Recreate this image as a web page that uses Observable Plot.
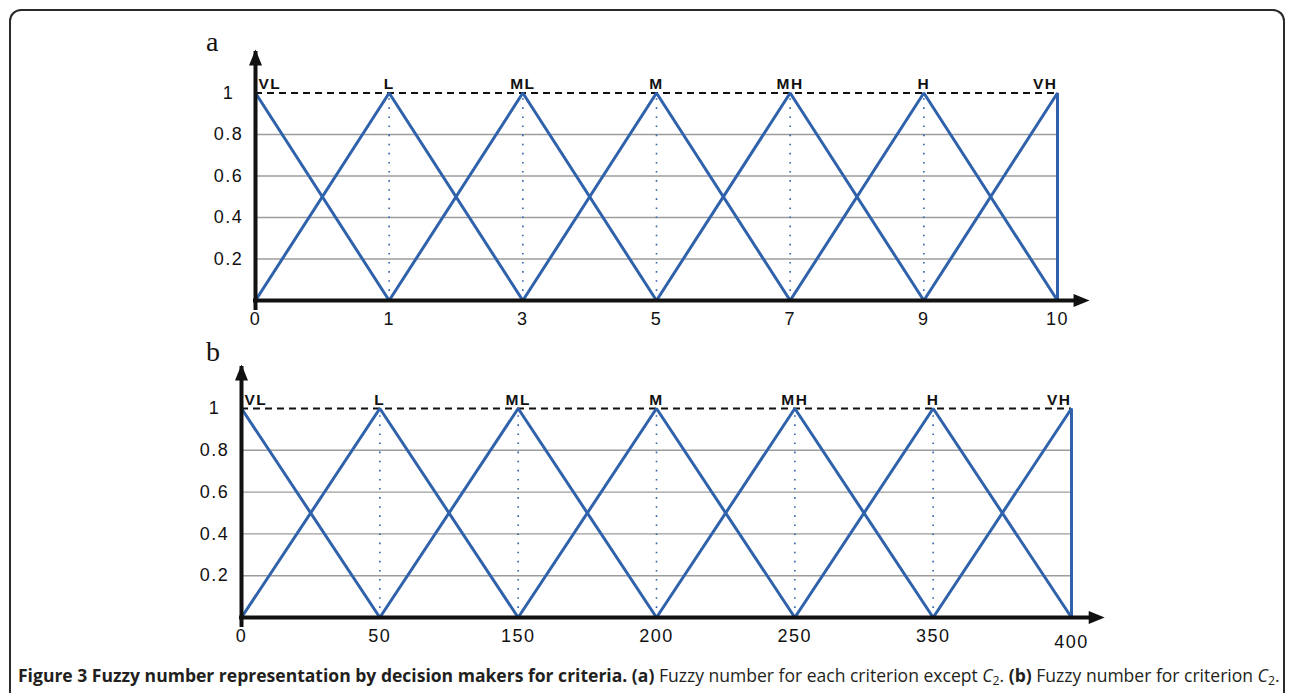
<!DOCTYPE html>
<html>
<head>
<meta charset="utf-8">
<script src="https://cdn.jsdelivr.net/npm/d3@7"></script>
<script src="https://cdn.jsdelivr.net/npm/@observablehq/plot@0.6"></script>
<style>
  html, body { margin: 0; padding: 0; background: #fff; }
  body { width: 1292px; height: 693px; position: relative; overflow: hidden; }
  #frame { position: absolute; left: 9px; top: 9px; width: 1276px; height: 720px;
           border: 2px solid #2a2a2a; border-bottom: none; border-radius: 12px 12px 0 0; box-sizing: border-box; }
  .panel { position: absolute; left: 0; }
  .panel svg text { letter-spacing: 1.5px; font-family: "Liberation Sans", Arial, sans-serif !important; }
  .plabel { position: absolute; font-family: "Liberation Serif", serif; font-size: 28px; line-height: 28px; color: #111; }
  #caption { position: absolute; left: 18px; top: 663px; white-space: nowrap;
             font-family: "Open Sans", "Noto Sans", sans-serif; font-size: 14px; color: #231f20; }
  #caption b { font-weight: 700; }
  #caption i { font-style: italic; }
  #caption sub { font-size: 0.7em; vertical-align: -0.25em; line-height: 0; }
</style>
</head>
<body>
<div id="frame"></div>
<div class="plabel" style="left:206px; top:28px;">a</div>
<div class="plabel" style="left:206px; top:338px;">b</div>
<div id="panelA" class="panel" style="top:0px;"></div>
<div id="panelB" class="panel" style="top:340px;"></div>
<div id="caption"><span id="capspan"><b>Figure 3 Fuzzy number representation by decision makers for criteria. (a)</b> Fuzzy number for each criterion except <i>C</i><sub>2</sub>. <b>(b)</b> Fuzzy number for criterion <i>C</i><sub>2</sub>.</span></div>
<script>
// ---- data ----
const terms = ["VL", "L", "ML", "M", "MH", "H", "VH"];
const ticksA = [0, 1, 3, 5, 7, 9, 10];
const fuzzyA = [[0, 0, 1], [0, 1, 3], [1, 3, 5], [3, 5, 7], [5, 7, 9], [7, 9, 10], [9, 10, 10]];
const ticksB = [0, 50, 150, 200, 250, 350, 400];
const fuzzyB = [[0, 0, 50], [0, 50, 150], [50, 150, 200], [150, 200, 250], [200, 250, 350], [250, 350, 400], [350, 400, 400]];
const gridLevels = [0.2, 0.4, 0.6, 0.8];
const yTicks = [0.2, 0.4, 0.6, 0.8, 1];

// ---- styles ----
const BLUE = "#2f62ab";
const INK = "#111";
const FONT = "'Liberation Sans', Arial, sans-serif";
const axisTopY = 1.21;   // y-arrow tip (in y units)
const axisEndX = 6.24;   // x-arrow tip (in index units)

const arrowUp = { draw(ctx) { ctx.moveTo(0, 0); ctx.lineTo(-6.5, 16); ctx.lineTo(6.5, 16); ctx.closePath(); } };
const arrowRight = { draw(ctx) { ctx.moveTo(0, 0); ctx.lineTo(-16, -6.5); ctx.lineTo(-16, 6.5); ctx.closePath(); } };

function panel({ ticks, fuzzy, height, marginTop, marginBottom, marginLeft, marginRight, lastTickPadding }) {
  const pos = v => ticks.indexOf(v);
  const last = ticks.length - 1;
  const rows = fuzzy.flatMap((t, i) =>
    [[t[0], 0], [t[1], 1], [t[2], 0]].map(([v, y]) => ({ term: terms[i], x: pos(v), y })));
  const peaks = fuzzy.map((t, i) => ({ term: terms[i], x: pos(t[1]) }));
  const first = peaks.slice(0, 1), mid = peaks.slice(1, -1), end = peaks.slice(-1);
  const labelOpts = { x: "x", y: () => 1, text: "term", fontWeight: "bold", fontSize: 15.5, fill: INK, lineAnchor: "bottom", dy: -4 };
  const xAxisOpts = { tickFormat: i => String(ticks[i]), tickSize: 0, fontSize: 18, fill: INK, label: null };
  return Plot.plot({
    width: 1292, height, marginTop, marginBottom, marginLeft, marginRight,
    style: { fontFamily: FONT, background: "transparent", color: INK },
    x: { domain: [0, last], axis: null },
    y: { domain: [0, 1], axis: null },
    marks: [
      Plot.ruleY(gridLevels, { x1: 0, x2: last, stroke: "#9c9c9c", strokeWidth: 1.4 }),
      Plot.ruleX(peaks, { x: "x", y1: 0, y2: 1, stroke: BLUE, strokeWidth: 1.6, strokeDasharray: "1.6,7.5" }),
      Plot.ruleY([1], { x1: 0, x2: last, stroke: INK, strokeWidth: 2, strokeDasharray: "7,5" }),
      Plot.line(rows, { x: "x", y: "y", z: "term", stroke: BLUE, strokeWidth: 3, strokeLinejoin: "miter" }),
      Plot.ruleX([0], { y1: 0, y2: axisTopY, stroke: INK, strokeWidth: 4, insetTop: 10, insetBottom: -2 }),
      Plot.ruleY([0], { x1: 0, x2: axisEndX, stroke: INK, strokeWidth: 4, insetRight: 10, insetLeft: -2 }),
      Plot.dot([0], { x: () => 0, y: () => axisTopY, symbol: arrowUp, fill: INK, stroke: "none" }),
      Plot.dot([0], { x: () => axisEndX, y: () => 0, symbol: arrowRight, fill: INK, stroke: "none" }),
      Plot.text(first, { ...labelOpts, textAnchor: "start", dx: 3 }),
      Plot.text(mid, { ...labelOpts, textAnchor: "middle" }),
      Plot.text(end, { ...labelOpts, textAnchor: "end" }),
      Plot.axisX({ ...xAxisOpts, ticks: d3.range(last), tickPadding: 12 }),
      Plot.axisX({ ...xAxisOpts, ticks: [last], tickPadding: lastTickPadding }),
      Plot.axisY({ ticks: yTicks, tickFormat: d => String(d), tickSize: 0, tickPadding: 27, textAnchor: "middle", fontSize: 18, fill: INK, label: null })
    ]
  });
}

document.getElementById("panelA").append(panel({
  ticks: ticksA, fuzzy: fuzzyA, height: 340, marginTop: 92.5, marginBottom: 40, marginLeft: 255, marginRight: 235, lastTickPadding: 12
}));
document.getElementById("panelB").append(panel({
  ticks: ticksB, fuzzy: fuzzyB, height: 320, marginTop: 68, marginBottom: 43, marginLeft: 241, marginRight: 221, lastTickPadding: 18
}));

// fit caption to the frame width
const cap = document.getElementById("capspan");
const w = cap.getBoundingClientRect().width;
const target = 1263;
document.getElementById("caption").style.fontSize = (14 * target / w).toFixed(2) + "px";
</script>
</body>
</html>
